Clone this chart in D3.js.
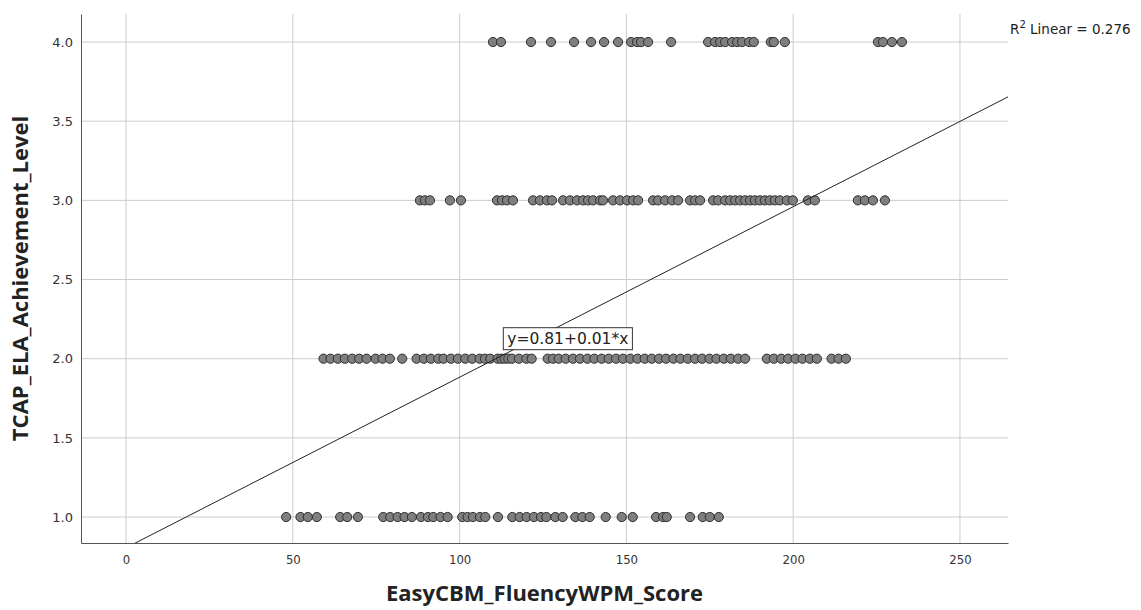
<!DOCTYPE html>
<html>
<head>
<meta charset="utf-8">
<script src="https://cdn.jsdelivr.net/npm/d3@7"></script>
<style>
  body { margin: 0; background: #fff; }
  svg { display: block; }
</style>
</head>
<body>
<svg id="chart" width="1141" height="610"></svg>
<script>
// fluency scores (WPM) for each achievement level
const level4 = [110.0, 112.4, 121.4, 127.4, 134.3, 139.4, 143.3, 147.5, 151.4, 153.2, 154.4, 156.5,
  163.4, 174.5, 176.6, 178.1, 179.6, 181.7, 183.2, 184.7, 186.8, 188.2, 193.3, 194.2, 197.5,
  225.4, 226.9, 229.6, 232.6]
const level3 = [88.1, 89.6, 91.1, 97.1, 100.4, 111.2, 112.7, 114.2, 116.0, 122.0, 124.1, 126.2, 127.7,
  131.0, 133.1, 135.2, 137.0, 138.5, 140.0, 142.1, 143.0, 146.0, 148.1, 150.2, 152.0, 153.5,
  158.0, 159.5, 161.6, 163.7, 165.5, 169.1, 170.6, 172.1, 176.0, 177.5, 179.6, 181.1, 182.6,
  184.1, 185.6, 187.1, 188.5, 190.0, 191.5, 193.0, 194.5, 196.0, 198.1, 199.9, 204.4, 206.5,
  219.4, 221.5, 223.9, 227.5]
const level2 = [59.2, 61.3, 63.5, 65.6, 67.8, 69.9, 72.1, 74.8, 76.9, 79.1, 82.8, 87.1, 89.3, 91.4,
  93.6, 95.2, 97.4, 99.5, 101.7, 103.8, 106.0, 107.6, 109.2, 111.4, 112.5, 113.5, 114.6, 115.7,
  117.8, 120.0, 121.6, 126.4, 128.0, 129.7, 131.8, 134.0, 136.1, 138.3, 140.4, 142.6, 144.7,
  146.9, 149.0, 151.2, 153.3, 155.5, 157.6, 159.8, 161.9, 164.1, 166.2, 168.4, 170.6, 172.7,
  174.9, 177.0, 179.2, 181.3, 183.5, 185.6, 192.1, 194.2, 196.4, 198.5, 200.7, 202.8, 205.0,
  207.1, 211.5, 213.6, 215.8]
const level1 = [48.0, 52.3, 54.5, 57.2, 64.2, 66.3, 69.5, 77.1, 79.2, 81.4, 83.5, 85.7, 88.4, 90.5,
  92.1, 94.3, 96.4, 100.8, 102.4, 104.0, 106.1, 107.7, 111.5, 115.8, 118.0, 120.1, 122.3, 124.4,
  126.0, 128.7, 130.9, 134.7, 136.8, 139.0, 143.8, 148.6, 151.9, 158.9, 161.0, 162.1, 169.1,
  172.9, 175.0, 177.7]

const xTicks = [0, 50, 100, 150, 200, 250]
const yTicks = [1.0, 1.5, 2.0, 2.5, 3.0, 3.5, 4.0]

const intercept = 0.806, slope = 0.01077
const rSquared = 0.276
const eqLabel = "y=0.81+0.01*x"

let points = [
  ...level4.map(v => ({ x: v, y: 4 })),
  ...level3.map(v => ({ x: v, y: 3 })),
  ...level2.map(v => ({ x: v, y: 2 })),
  ...level1.map(v => ({ x: v, y: 1 }))
]

let pLeft = 81, pRight = 1008, pTop = 14, pBottom = 543

let x = d3.scaleLinear().domain([-13.5, 264.4]).range([pLeft, pRight])
let y = d3.scaleLinear().domain([0.836, 4.177]).range([pBottom, pTop])

let svg = d3.select("#chart")

svg.append("defs").append("clipPath").attr("id", "plotclip")
  .append("rect")
  .attr("x", pLeft).attr("y", pTop)
  .attr("width", pRight - pLeft).attr("height", pBottom - pTop)

// grid
svg.append("g")
  .selectAll("line")
  .data(xTicks).enter()
  .append("line")
  .attr("x1", d => x(d)).attr("x2", d => x(d))
  .attr("y1", pTop).attr("y2", pBottom)
  .attr("stroke", "#cccccc")

svg.append("g")
  .selectAll("line")
  .data(yTicks).enter()
  .append("line")
  .attr("x1", pLeft).attr("x2", pRight)
  .attr("y1", d => y(d)).attr("y2", d => y(d))
  .attr("stroke", "#cccccc")

// axes
let xAxis = d3.axisBottom(x).tickValues(xTicks).tickSize(0).tickPadding(12).tickFormat(d3.format("d"))
let gx = svg.append("g").attr("transform", `translate(0,${pBottom})`).call(xAxis)
gx.select(".domain").attr("stroke", "#555")
gx.selectAll("text")
  .attr("font-family", "'DejaVu Sans Condensed', 'Liberation Sans Narrow', sans-serif")
  .attr("font-size", 13).attr("fill", "#333")

let yAxis = d3.axisLeft(y).tickValues(yTicks).tickSize(0).tickPadding(8).tickFormat(d3.format(".1f"))
let gy = svg.append("g").attr("transform", `translate(${pLeft},0)`).call(yAxis)
gy.select(".domain").attr("stroke", "#555")
gy.selectAll("text")
  .attr("font-family", "'DejaVu Sans', sans-serif")
  .attr("font-size", 13).attr("fill", "#333")

// points
svg.append("g")
  .selectAll("circle")
  .data(points).enter()
  .append("circle")
  .attr("cx", d => x(d.x))
  .attr("cy", d => y(d.y))
  .attr("r", 4.6)
  .attr("fill", "#7f7f7f")
  .attr("stroke", "#2e2e2e")
  .attr("stroke-width", 1)

// fit line
let xd = x.domain()
svg.append("line")
  .attr("clip-path", "url(#plotclip)")
  .attr("x1", x(xd[0])).attr("y1", y(intercept + slope * xd[0]))
  .attr("x2", x(xd[1])).attr("y2", y(intercept + slope * xd[1]))
  .attr("stroke", "#222").attr("stroke-width", 1)

// equation label
let lab = svg.append("g").attr("transform", `translate(${x(113.1)},${y(2.13)})`)
let labText = lab.append("text")
  .attr("x", 4).attr("dy", "0.36em")
  .attr("font-family", "'DejaVu Sans', sans-serif")
  .attr("font-size", 15.5).attr("fill", "#222")
  .text(eqLabel)
let bb = labText.node().getBBox()
lab.insert("rect", "text")
  .attr("x", 0).attr("y", bb.y - 2)
  .attr("width", bb.width + 8).attr("height", bb.height + 4)
  .attr("fill", "#fff").attr("stroke", "#333")

// R squared note
let r2 = svg.append("text")
  .attr("x", 1010).attr("y", 34)
  .attr("font-family", "'DejaVu Sans', sans-serif")
  .attr("font-size", 13.5).attr("fill", "#222")
r2.append("tspan").text("R")
r2.append("tspan").attr("dy", -6).attr("font-size", 10).text("2")
r2.append("tspan").attr("dy", 6).text(" Linear = " + rSquared)

// titles
svg.append("text")
  .attr("x", (pLeft + pRight) / 2).attr("y", 601)
  .attr("text-anchor", "middle")
  .attr("font-family", "'Open Sans', sans-serif")
  .attr("font-weight", "bold").attr("font-size", 22).attr("fill", "#222")
  .text("EasyCBM_FluencyWPM_Score")

svg.append("text")
  .attr("transform", `translate(28,${(pTop + pBottom) / 2}) rotate(-90)`)
  .attr("text-anchor", "middle")
  .attr("font-family", "'Open Sans', sans-serif")
  .attr("font-weight", "bold").attr("font-size", 22).attr("fill", "#222")
  .text("TCAP_ELA_Achievement_Level")
</script>
</body>
</html>
